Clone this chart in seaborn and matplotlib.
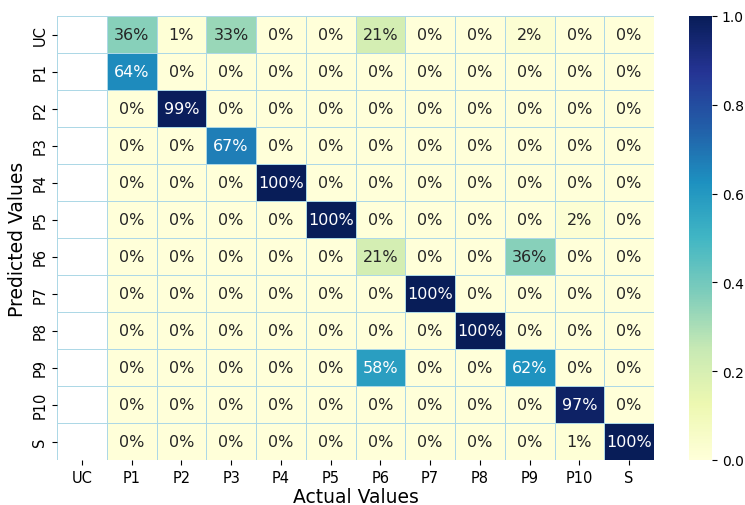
import numpy as np
import pandas as pd
import matplotlib
matplotlib.use("Agg")
import matplotlib.pyplot as plt
import seaborn as sns

labels = ["UC", "P1", "P2", "P3", "P4", "P5", "P6", "P7", "P8", "P9", "P10", "S"]

# rows = predicted, columns = actual (UC actual column has no data)
row_uc  = [np.nan, 0.36, 0.01, 0.33, 0, 0, 0.21, 0, 0, 0.02, 0, 0]
row_p1  = [np.nan, 0.64, 0, 0, 0, 0, 0, 0, 0, 0, 0, 0]
row_p2  = [np.nan, 0, 0.99, 0, 0, 0, 0, 0, 0, 0, 0, 0]
row_p3  = [np.nan, 0, 0, 0.67, 0, 0, 0, 0, 0, 0, 0, 0]
row_p4  = [np.nan, 0, 0, 0, 1.0, 0, 0, 0, 0, 0, 0, 0]
row_p5  = [np.nan, 0, 0, 0, 0, 1.0, 0, 0, 0, 0, 0.02, 0]
row_p6  = [np.nan, 0, 0, 0, 0, 0, 0.21, 0, 0, 0.36, 0, 0]
row_p7  = [np.nan, 0, 0, 0, 0, 0, 0, 1.0, 0, 0, 0, 0]
row_p8  = [np.nan, 0, 0, 0, 0, 0, 0, 0, 1.0, 0, 0, 0]
row_p9  = [np.nan, 0, 0, 0, 0, 0, 0.58, 0, 0, 0.62, 0, 0]
row_p10 = [np.nan, 0, 0, 0, 0, 0, 0, 0, 0, 0, 0.97, 0]
row_s   = [np.nan, 0, 0, 0, 0, 0, 0, 0, 0, 0, 0.01, 1.0]

cm = pd.DataFrame(
    [row_uc, row_p1, row_p2, row_p3, row_p4, row_p5,
     row_p6, row_p7, row_p8, row_p9, row_p10, row_s],
    index=labels, columns=labels,
)

fig = plt.figure(figsize=(7.45, 5.06), dpi=100)
ax = fig.add_axes([57 / 745, 45 / 506, 597 / 745, 444 / 506])
cax = fig.add_axes([689 / 745, 45 / 506, 23 / 745, 444 / 506])

sns.heatmap(cm, annot=True, fmt=".0%", cmap="YlGnBu", vmin=0, vmax=1,
            linewidths=0.6, linecolor="lightblue", annot_kws={"size": 11.5},
            ax=ax, cbar_ax=cax)
cax.tick_params(labelsize=10)
cbar = ax.collections[0].colorbar
cbar.outline.set_visible(False)

ax.set_xlabel("Actual Values", fontsize=13.5, labelpad=2)
ax.set_ylabel("Predicted Values", fontsize=13.5)
ax.tick_params(labelsize=10.5)

fig.savefig("out.png", dpi=100)
